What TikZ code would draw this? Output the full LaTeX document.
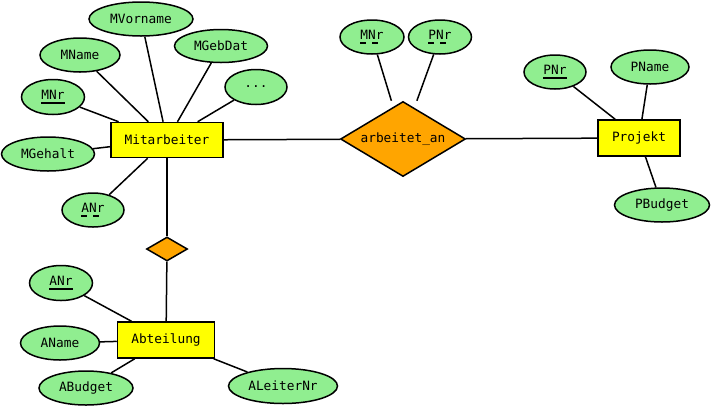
\documentclass[tikz,border=0pt]{standalone}
\usepackage{fontspec}
\setmonofont{DejaVu Sans Mono}
\usetikzlibrary{shapes.geometric}
\definecolor{attrgreen}{HTML}{90EE90}
\definecolor{relorange}{HTML}{FFA500}
\definecolor{entyellow}{HTML}{FFFF00}
\newcommand\ulsolid[1]{\setbox0\hbox{#1}\rlap{\rule[-5pt]{\wd0}{1.8pt}}\box0}
\newcommand\uldashed[1]{\rlap{\rule[-5pt]{6pt}{1.8pt}\hspace{6pt}\rule[-5pt]{6pt}{1.8pt}}#1}
\begin{document}
\begin{tikzpicture}[x=1pt,y=-1pt,line width=1.5pt,
  font=\fontsize{12.8}{15}\selectfont\ttfamily,
  attr/.style={ellipse,draw,fill=attrgreen,inner sep=0pt},
  ent/.style={rectangle,draw,fill=entyellow,inner sep=0pt},
  rel/.style={diamond,draw,fill=relorange,inner sep=0pt,aspect=1.67},
  link/.style={draw,line width=1.5pt}]
\useasboundingbox (0,0) rectangle (711,408);
% Mitarbeiter and its attributes
\node[ent,minimum width=112pt,minimum height=35pt] (mit) at (167,140) {Mitarbeiter};
\node[attr,minimum width=104pt,minimum height=34pt] (mvor) at (141,19) {MVorname};
\node[attr,minimum width=80pt,minimum height=34pt] (mname) at (80,55) {MName};
\node[attr,minimum width=93pt,minimum height=33pt] (mgeb) at (221,46) {MGebDat};
\node[attr,minimum width=62pt,minimum height=35pt] (mdots) at (256,87) {...};
\node[attr,minimum width=63pt,minimum height=35pt] (mnr) at (53,97) {\ulsolid{MNr}};
\node[attr,minimum width=93pt,minimum height=34pt] (mgeh) at (48,154) {MGehalt};
\node[attr,minimum width=62pt,minimum height=34pt] (manr) at (93,210) {\uldashed{ANr}};
% relationship arbeitet_an
\node[rel,minimum width=125pt,minimum height=75pt] (ar) at (403,139) {arbeitet\_an};
\node[rectangle,minimum width=125pt,minimum height=75pt,inner sep=0pt] (arbox) at (403,139) {};
\node[attr,minimum width=64pt,minimum height=34pt] (rnr) at (372,37) {\uldashed{MNr}};
\node[attr,minimum width=63pt,minimum height=34pt] (rpnr) at (440,37) {\uldashed{PNr}};
% Projekt
\node[ent,minimum width=82pt,minimum height=36pt] (proj) at (639,138) {Projekt};
\node[attr,minimum width=62pt,minimum height=34pt] (pnr) at (555,72) {\ulsolid{PNr}};
\node[attr,minimum width=78pt,minimum height=34pt] (pname) at (650,67) {PName};
\node[attr,minimum width=95pt,minimum height=34pt] (pbud) at (662,205) {PBudget};
% isa diamond and Abteilung
\node[rel,minimum width=41pt,minimum height=24pt] (isa) at (167,249) {};
\node[ent,minimum width=97pt,minimum height=36pt] (abt) at (166,340) {Abteilung};
\node[attr,minimum width=63pt,minimum height=35pt] (aanr) at (61,283) {\ulsolid{ANr}};
\node[attr,minimum width=79pt,minimum height=34pt] (aname) at (60,343) {AName};
\node[attr,minimum width=94pt,minimum height=34pt] (abud) at (86,388) {ABudget};
\node[attr,minimum width=109pt,minimum height=35pt] (aleit) at (283,386) {ALeiterNr};
% connectors
\path[link] (mvor) -- (mit);
\path[link] (mname) -- (mit);
\path[link] (mgeb) -- (mit);
\path[link] (mdots) -- (mit);
\path[link] (mnr) -- (mit);
\path[link] (mgeh) -- (mit);
\path[link] (manr) -- (mit);
\path[link] (mit) -- (ar);
\path[link] (ar) -- (proj);
\path[link] (rnr) -- (arbox);
\path[link] (rpnr) -- (arbox);
\path[link] (pnr) -- (proj);
\path[link] (pname) -- (proj);
\path[link] (pbud) -- (proj);
\path[link] (mit) -- (isa);
\path[link] (isa) -- (abt);
\path[link] (aanr) -- (abt);
\path[link] (aname) -- (abt);
\path[link] (abud) -- (abt);
\path[link] (aleit) -- (abt);
\end{tikzpicture}
\end{document}
